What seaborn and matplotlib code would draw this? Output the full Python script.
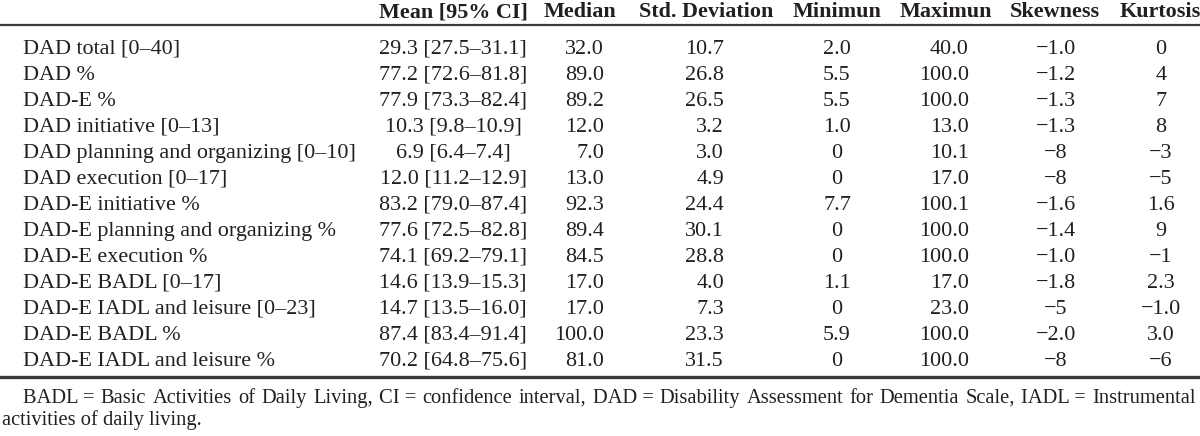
import matplotlib
matplotlib.use('Agg')
import matplotlib.pyplot as plt
import seaborn as sns

sns.set_theme(style="white")
plt.rcParams['font.family'] = ['Liberation Serif', 'DejaVu Serif']

# 表格数据
headers = ["Mean [95% CI]", "Median", "Std. Deviation", "Minimun",
           "Maximun", "Skewness", "Kurtosis"]
row_labels = [
    "DAD total [0–40]", "DAD %", "DAD-E %", "DAD initiative [0–13]",
    "DAD planning and organizing [0–10]", "DAD execution [0–17]",
    "DAD-E initiative %", "DAD-E planning and organizing %",
    "DAD-E execution %", "DAD-E BADL [0–17]",
    "DAD-E IADL and leisure [0–23]", "DAD-E BADL %",
    "DAD-E IADL and leisure %",
]
mean_ci = ["29.3 [27.5–31.1]", "77.2 [72.6–81.8]", "77.9 [73.3–82.4]",
           "10.3 [9.8–10.9]", "6.9 [6.4–7.4]", "12.0 [11.2–12.9]",
           "83.2 [79.0–87.4]", "77.6 [72.5–82.8]", "74.1 [69.2–79.1]",
           "14.6 [13.9–15.3]", "14.7 [13.5–16.0]", "87.4 [83.4–91.4]",
           "70.2 [64.8–75.6]"]
median = ["32.0", "89.0", "89.2", "12.0", "7.0", "13.0", "92.3", "89.4",
          "84.5", "17.0", "17.0", "100.0", "81.0"]
std_dev = ["10.7", "26.8", "26.5", "3.2", "3.0", "4.9", "24.4", "30.1",
           "28.8", "4.0", "7.3", "23.3", "31.5"]
minimum = ["2.0", "5.5", "5.5", "1.0", "0", "0", "7.7", "0", "0", "1.1",
           "0", "5.9", "0"]
maximum = ["40.0", "100.0", "100.0", "13.0", "10.1", "17.0", "100.1",
           "100.0", "100.0", "17.0", "23.0", "100.0", "100.0"]
skewness = ["−1.0", "−1.2", "−1.3", "−1.3", "−8", "−8", "−1.6", "−1.4",
            "−1.0", "−1.8", "−5", "−2.0", "−8"]
kurtosis = ["0", "4", "7", "8", "−3", "−5", "1.6", "9", "−1", "2.3",
            "−1.0", "3.0", "−6"]
footnote_words = ["BADL =", "Basic", "Activities", "of", "Daily", "Living,",
                  "CI =", "confidence", "interval,", "DAD =", "Disability",
                  "Assessment", "for", "Dementia", "Scale,", "IADL =",
                  "Instrumental"]
footnote2 = "activities of daily living."

columns = [mean_ci, median, std_dev, minimum, maximum, skewness, kurtosis]

# 版式（像素坐标）
W, H = 1200, 436
ink = '#231f20'
fs = 15.9
fs_note = 14.8
head_x = [453, 580, 706, 837, 946, 1055, 1160]
col_x = [453, 604, 724, 837, 969, 1056, 1161]
col_ha = ['center', 'right', 'right', 'center', 'right', 'center', 'center']
y_head = 12
y_rule_top = 25.5
y_first = 49
step = 26
y_rule_bot = 377
y_fn = [398, 420]

fig = plt.figure(figsize=(W / 100, H / 100), dpi=100)
ax = fig.add_axes([0, 0, 1, 1])
ax.set_xlim(0, W)
ax.set_ylim(H, 0)
ax.axis('off')

for x, h in zip(head_x, headers):
    ax.text(x, y_head, h, ha='center', va='center', fontsize=fs,
            fontweight='bold', color=ink)

ax.axhline(y_rule_top, color='#3a3a3a', lw=1.6)
ax.axhline(y_rule_bot, color='#3a3a3a', lw=2.4)

for i, label in enumerate(row_labels):
    y = y_first + i * step
    ax.text(23, y, label, ha='left', va='center', fontsize=fs, color=ink)
    for x, ha, col in zip(col_x, col_ha, columns):
        ax.text(x, y, col[i], ha=ha, va='center', fontsize=fs, color=ink)

# 脚注第一行两端对齐
fig.canvas.draw()
renderer = fig.canvas.get_renderer()
widths = []
for w in footnote_words:
    t = ax.text(0, 0, w, fontsize=fs_note)
    widths.append(t.get_window_extent(renderer=renderer).width)
    t.remove()
x_left, x_right = 23, 1196
gap = (x_right - x_left - sum(widths)) / (len(footnote_words) - 1)
x = x_left
for w, wd in zip(footnote_words, widths):
    ax.text(x, y_fn[0], w, ha='left', va='center', fontsize=fs_note, color=ink)
    x += wd + gap
ax.text(2, y_fn[1], footnote2, ha='left', va='center', fontsize=fs_note, color=ink)

fig.savefig('out.png', dpi=100, facecolor='white')
